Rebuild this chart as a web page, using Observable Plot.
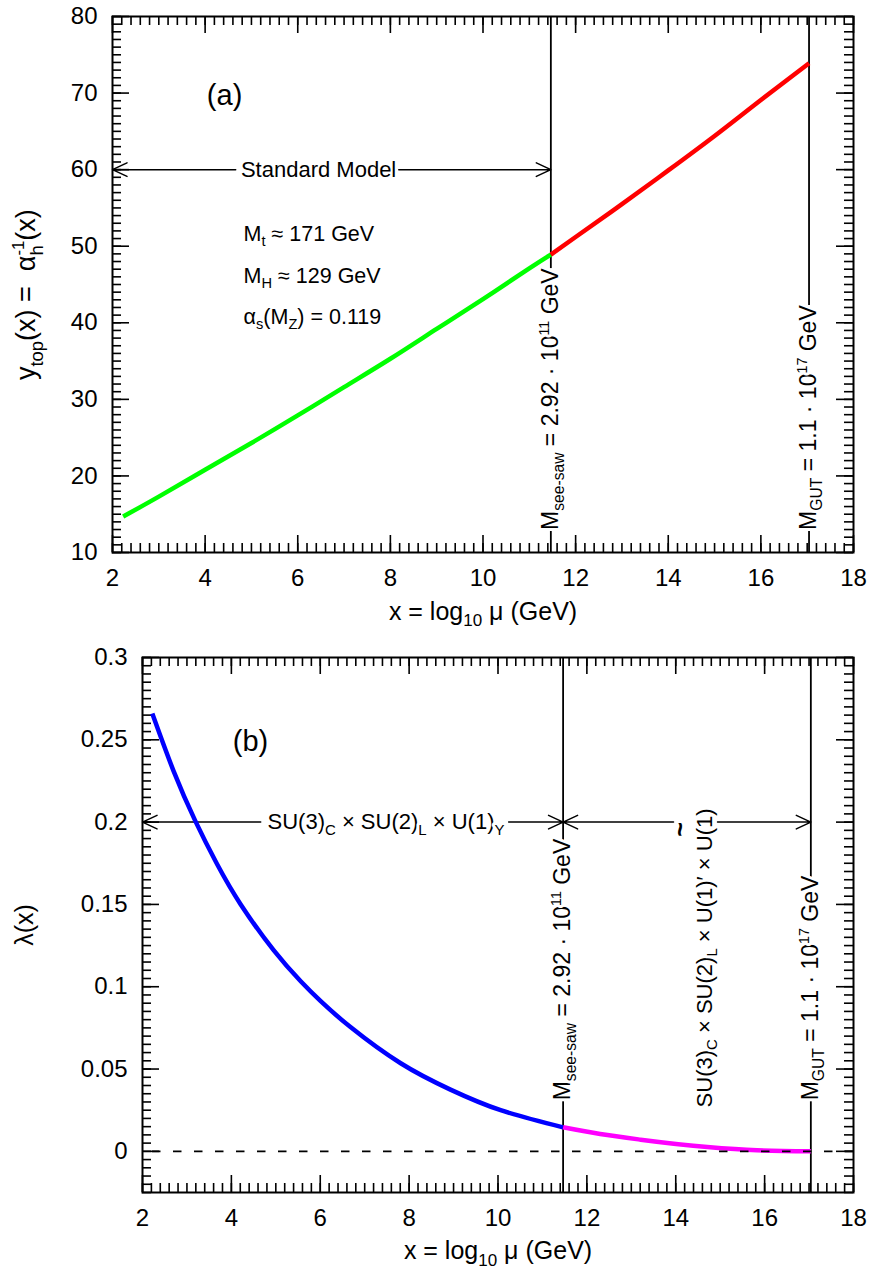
<!DOCTYPE html>
<html><head><meta charset="utf-8">
<script src="https://cdn.jsdelivr.net/npm/d3@7"></script>
<script src="https://cdn.jsdelivr.net/npm/@observablehq/plot@0.6"></script>
<style>html,body{margin:0;padding:0;background:#fff} svg{display:block}</style>
</head><body><div id="chart"></div>
<script>
// ---------- data ----------
const xTicks = [2, 4, 6, 8, 10, 12, 14, 16, 18];
const yTicksTop = [10, 20, 30, 40, 50, 60, 70, 80];
const yTicksBottom = [0, 0.05, 0.1, 0.15, 0.2, 0.25, 0.3];
const seesawX = 11.465;   // log10(2.92e11)
const gutX = 17.04;       // log10(1.1e17)

// panel (a): y_top(x) = 1/alpha_h
const smX  = [2.23, 3, 4, 5, 6, 7, 8, 9, 10, 11, 11.465];
const smY  = [14.7, 17.3, 20.8, 24.3, 27.9, 31.6, 35.3, 39.2, 43.1, 47.1, 48.9];
const bsmX = [11.465, 12, 13, 14, 15, 16, 17.04];
const bsmY = [48.9, 51.2, 55.5, 59.9, 64.4, 69.1, 73.9];

// panel (b): lambda(x)
const lamSmX  = [2.22, 2.7, 3.19, 3.68, 4.21, 4.95, 5.56, 6.01, 6.68, 7.81, 8.93, 10.06, 11.465];
const lamSmY  = [0.266, 0.231, 0.2006, 0.1744, 0.150, 0.1222, 0.1033, 0.0912, 0.0755, 0.0535, 0.0375, 0.025, 0.0146];
const lamBsmX = [11.465, 12.3, 13.21, 14.71, 15.83, 17.04];
const lamBsmY = [0.0146, 0.0105, 0.0071, 0.0026, 0.0006, 0.0];

// texts
const labXAxis = "x = log_{10} μ (GeV)";
const labYTop = "y_{top}(x) = \u00A0α_{h}^{-1}(x)";
const labYBottom = "λ(x)";
const labSeesaw = "M_{see-saw} = 2.92 · 10^{11} GeV";
const labGut = "M_{GUT} = 1.1 · 10^{17} GeV";
const labSM = "Standard Model";
const labParams = ["M_{t} ≈ 171 GeV", "M_{H} ≈ 129 GeV", "α_{s}(M_{Z}) = 0.119"];
const labGroupSM = "SU(3)_{C} × SU(2)_{L} × U(1)_{Y}";
const labGroupBSM = "SU(3)_{C} × SU(2)_{L} × U(1)′ × U(1)";

// ---------- helpers ----------
const zip = (xs, ys) => xs.map((x, i) => ({x, y: ys[i]}));
const xMinor = d3.range(0, 81).map(i => +(2 + i * 0.2).toFixed(3));
const yMinorTop = d3.range(10, 81);
const yMinorBottom = d3.range(-5, 61).map(i => +(i * 0.005).toFixed(4));
const FONT = "'Liberation Sans', Arial, Helvetica, sans-serif";

function panel({yDomain, yTicks, yMinor, marginLeft, marginTop, marks, yFormat}) {
  const W = 896, H = 640, mR = 43, mB = 88;
  const iw = W - marginLeft - mR, ih = H - marginTop - mB;
  const tk = {stroke: "black", strokeWidth: 1.6};
  return Plot.plot({
    width: W, height: H, marginLeft, marginRight: mR, marginTop, marginBottom: mB,
    x: {domain: [2, 18]}, y: {domain: yDomain},
    style: {fontFamily: FONT, fontSize: "24px", color: "black", background: "white"},
    marks: [
      Plot.tickX(xMinor, {x: d => d, insetTop: ih - 9, ...tk}),
      Plot.tickX(xTicks, {x: d => d, insetTop: ih - 17, ...tk}),
      Plot.tickX(xMinor, {x: d => d, insetBottom: ih - 9, ...tk}),
      Plot.tickX(xTicks, {x: d => d, insetBottom: ih - 17, ...tk}),
      Plot.tickY(yMinor, {y: d => d, insetRight: iw - 9, ...tk}),
      Plot.tickY(yTicks, {y: d => d, insetRight: iw - 17, ...tk}),
      Plot.tickY(yMinor, {y: d => d, insetLeft: iw - 9, ...tk}),
      Plot.tickY(yTicks, {y: d => d, insetLeft: iw - 17, ...tk}),
      ...marks,
      Plot.frame({stroke: "black", strokeWidth: 2}),
      Plot.axisX({ticks: xTicks, tickSize: 0, tickPadding: 16, fontSize: 24, label: null, tickFormat: d => String(d)}),
      Plot.axisY({ticks: yTicks, tickSize: 0, tickPadding: 15, fontSize: 24, label: null, tickFormat: yFormat})
    ]
  });
}
const arrowOpts = {x1: "x1", x2: "x2", y1: "y", y2: "y", stroke: "black", strokeWidth: 1.5, headLength: 16, headAngle: 50};
const ruleOpts = {x: "x", y1: "y1", y2: "y2", stroke: "black", strokeWidth: 1.8};
const halo = {fill: "black", stroke: "white", strokeWidth: 6};
const T = (x, y, t) => [{x, y, t}];
const tOpts = {x: "x", y: "y", text: "t"};
const lineOpts = {x: "x", y: "y", strokeWidth: 4.5, curve: "natural", strokeLinecap: "butt"};

// ---------- panel (a) ----------
const panelA = panel({
  yDomain: [10, 80], yTicks: yTicksTop, yMinor: yMinorTop, marginLeft: 112, marginTop: 16,
  yFormat: d => String(d),
  marks: [
    Plot.ruleX([{x: seesawX, y1: 47.08, y2: 80}, {x: seesawX, y1: 10, y2: 12.87},
                {x: gutX, y1: 42.25, y2: 80}, {x: gutX, y1: 10, y2: 12.87}], ruleOpts),
    Plot.arrow([{x1: 4.66, x2: 2, y: 60}, {x1: 8.18, x2: seesawX, y: 60}], arrowOpts),
    Plot.line(zip(smX, smY), {...lineOpts, stroke: "#00ff00"}),
    Plot.line(zip(bsmX, bsmY), {...lineOpts, stroke: "#ff0000"}),
    Plot.text(T(4.42, 68.5, "(a)"), {...tOpts, fontSize: 29, lineAnchor: "bottom", fill: "black"}),
    Plot.text(T(6.45, 60, labSM), {...tOpts, fontSize: 22, lineAnchor: "middle", ...halo}),
    Plot.text([{x: 4.83, y: 50.73, t: labParams[0]}, {x: 4.83, y: 45.25, t: labParams[1]}, {x: 4.83, y: 39.9, t: labParams[2]}],
      {...tOpts, fontSize: 21.5, textAnchor: "start", lineAnchor: "bottom", fill: "black"}),
    Plot.text(T(seesawX, 12.95, labSeesaw), {...tOpts, fontSize: 23, rotate: -90, textAnchor: "start", lineAnchor: "middle", ...halo}),
    Plot.text(T(gutX, 12.95, labGut), {...tOpts, fontSize: 23, rotate: -90, textAnchor: "start", lineAnchor: "middle", ...halo}),
    Plot.text(T(10, 1.19, labXAxis), {...tOpts, fontSize: 25, lineAnchor: "bottom", fill: "black"}),
    Plot.text(T(0.337, 43.68, labYTop), {...tOpts, fontSize: 27, rotate: -90, lineAnchor: "bottom", fill: "black"})
  ]
});

// ---------- panel (b) ----------
const panelB = panel({
  yDomain: [-0.025, 0.3], yTicks: yTicksBottom, yMinor: yMinorBottom, marginLeft: 142, marginTop: 17,
  yFormat: d => (d === 0 ? "0" : String(d)),
  marks: [
    Plot.ruleX([{x: seesawX, y1: 0.1888, y2: 0.3}, {x: seesawX, y1: -0.025, y2: 0.031},
                {x: gutX, y1: 0.1603, y2: 0.3}, {x: gutX, y1: -0.025, y2: 0.031}], ruleOpts),
    Plot.arrow([{x1: 4.66, x2: 2, y: 0.2}, {x1: 10.24, x2: seesawX, y: 0.2},
                {x1: 13.95, x2: seesawX, y: 0.2}, {x1: 14.94, x2: gutX, y: 0.2}], arrowOpts),
    Plot.line(zip(lamSmX, lamSmY), {...lineOpts, stroke: "#0000ff"}),
    Plot.line(zip(lamBsmX, lamBsmY), {...lineOpts, curve: "monotone-x", stroke: "#ff00ff"}),
    Plot.ruleY([0], {stroke: "black", strokeWidth: 1.6, strokeDasharray: "8.5,12.5", strokeDashoffset: 11}),
    Plot.text(T(4.43, 0.2429, "(b)"), {...tOpts, fontSize: 29, lineAnchor: "bottom", fill: "black"}),
    Plot.text(T(7.48, 0.2, labGroupSM), {...tOpts, fontSize: 22, lineAnchor: "middle", ...halo}),
    Plot.text(T(14.65, 0.2083, labGroupBSM), {...tOpts, fontSize: 22, rotate: -90, textAnchor: "end", lineAnchor: "middle", ...halo}),
    Plot.text(T(14.11, 0.1955, "~"), {...tOpts, fontSize: 25, fontWeight: "bold", rotate: -90, lineAnchor: "middle", ...halo}),
    Plot.text(T(seesawX, 0.031, labSeesaw), {...tOpts, fontSize: 23, rotate: -90, textAnchor: "start", lineAnchor: "middle", ...halo}),
    Plot.text(T(gutX, 0.031, labGut), {...tOpts, fontSize: 23, rotate: -90, textAnchor: "start", lineAnchor: "middle", ...halo}),
    Plot.text(T(10, -0.0656, labXAxis), {...tOpts, fontSize: 25, lineAnchor: "bottom", fill: "black"}),
    Plot.text(T(-0.475, 0.1375, labYBottom), {...tOpts, fontSize: 25, rotate: -90, lineAnchor: "bottom", fill: "black"})
  ]
});

const host = document.getElementById("chart");
host.appendChild(panelA);
host.appendChild(panelB);

// ---------- sub/superscript rendering (real SVG text with tspans) ----------
function rich(svg) {
  const NS = "http://www.w3.org/2000/svg";
  for (const t of svg.querySelectorAll("text")) {
    const s = t.textContent;
    if (!/[_^]\{/.test(s)) continue;
    const fs = parseFloat(getComputedStyle(t).fontSize) || 16;
    t.textContent = "";
    let cur = 0, prevType = null, prevEl = null, m;
    const re = /([_^])\{([^}]*)\}|([^_^]+)/g;
    while ((m = re.exec(s))) {
      const type = m[1] || "n";
      const str = m[1] ? m[2] : m[3];
      const size = type === "n" ? fs : type === "_" ? fs * 0.68 : fs * 0.62;
      const target = type === "_" ? 0.26 * fs : type === "^" ? -0.42 * fs : 0;
      const el = document.createElementNS(NS, "tspan");
      el.setAttribute("font-size", size);
      el.setAttribute("dy", target - cur);
      el.textContent = str;
      t.appendChild(el);
      if (type === "^" && prevType === "_") el.setAttribute("dx", -prevEl.getComputedTextLength());
      cur = target; prevType = type; prevEl = el;
    }
  }
}
rich(panelA);
rich(panelB);
</script></body></html>
